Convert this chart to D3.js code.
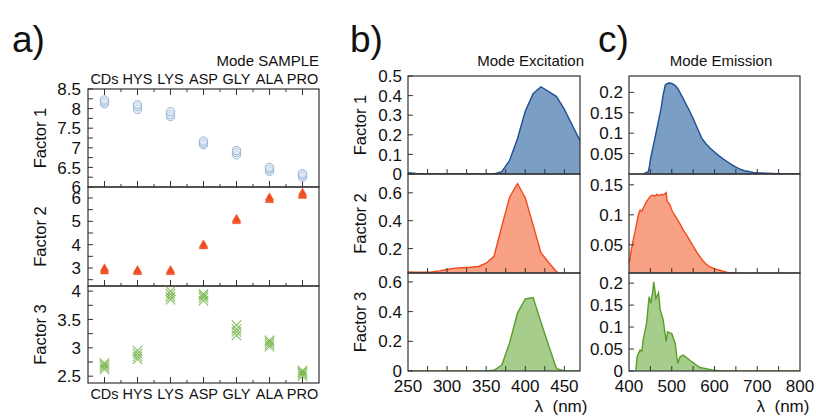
<!DOCTYPE html>
<html>
<head>
<meta charset="utf-8">
<script src="https://cdn.jsdelivr.net/npm/d3@7"></script>
<style>
  body { margin: 0; background: #fff; }
  svg { font-family: "Liberation Sans", Arial, sans-serif; }
</style>
</head>
<body>
<div id="chart"></div>
<script>
// ---- data ----
var categories = ["CDs", "HYS", "LYS", "ASP", "GLY", "ALA", "PRO"];

// mode SAMPLE, replicate scores per sample
var sampleF1 = [[8.12, 8.17, 8.22], [7.98, 8.05, 8.1], [7.8, 7.85, 7.92], [7.08, 7.12, 7.17],
                [6.82, 6.88, 6.93], [6.4, 6.45, 6.5], [6.25, 6.3, 6.34]];
var sampleF2 = [[2.85, 2.92, 2.98], [2.82, 2.86, 2.9], [2.82, 2.86, 2.9], [3.92, 3.96, 4.0],
                [5.0, 5.05, 5.1], [5.9, 5.95, 6.02], [6.08, 6.14, 6.22]];
var sampleF3 = [[2.62, 2.66, 2.7, 2.73], [2.8, 2.85, 2.9, 2.95], [3.85, 3.9, 3.95, 4.0], [3.83, 3.88, 3.92, 3.95],
                [3.22, 3.28, 3.33, 3.4], [3.02, 3.06, 3.1, 3.13], [2.5, 2.54, 2.57, 2.6]];

// mode excitation
var exWl = [250, 260, 270, 280, 290, 300, 310, 320, 330, 340, 350, 360, 370, 380, 390, 400, 410, 420, 430, 440, 450, 460, 470];
var exF1 = [0.007, 0.003, 0, 0, 0, 0, 0, 0, 0, 0, 0, 0, 0.012, 0.07, 0.18, 0.32, 0.41, 0.445, 0.42, 0.395, 0.33, 0.25, 0.17];
var exF2 = [0.032, 0.031, 0.03, 0.032, 0.04, 0.05, 0.06, 0.063, 0.066, 0.072, 0.095, 0.145, 0.36, 0.57, 0.665, 0.565, 0.37, 0.17, 0.1, 0.035, 0, 0, 0];
var exF3 = [0, 0, 0, 0, 0, 0, 0, 0, 0, 0, 0, 0.005, 0.04, 0.19, 0.39, 0.485, 0.495, 0.33, 0.17, 0.015, 0, 0, 0];

// mode emission
var emF1Wl = [435, 440, 445, 448, 450, 455, 460, 465, 470, 475, 480, 485, 490, 495, 500, 505, 510, 515, 520, 530, 540, 550,
              560, 570, 580, 590, 600, 610, 620, 630, 640, 650, 660, 670, 680, 690, 700, 720, 750, 780, 800];
var emF1 = [0, 0.004, 0.005, 0.02, 0.035, 0.06, 0.085, 0.11, 0.135, 0.16, 0.195, 0.218, 0.222, 0.223, 0.222, 0.219, 0.215, 0.208, 0.198, 0.178, 0.158, 0.136,
            0.112, 0.088, 0.074, 0.063, 0.054, 0.045, 0.037, 0.03, 0.023, 0.017, 0.012, 0.008, 0.006, 0.004, 0.003, 0.002, 0.001, 0, 0];
var emF2Wl = [400, 402, 405, 410, 415, 418, 422, 426, 430, 433, 437, 441, 445, 450, 455, 460, 465, 470, 475, 480, 485, 487, 489,
              495, 500, 504, 510, 515, 520, 525, 530, 535, 540, 545, 550, 555, 560, 565, 570, 575, 580, 590, 600, 610, 620, 630, 640, 660, 680, 700, 800];
var emF2 = [0.02, 0.025, 0.04, 0.058, 0.075, 0.086, 0.1, 0.108, 0.106, 0.111, 0.116, 0.122, 0.126, 0.131, 0.133, 0.131, 0.134, 0.132, 0.134, 0.133, 0.136, 0.137, 0.123,
            0.118, 0.108, 0.103, 0.096, 0.09, 0.084, 0.077, 0.071, 0.066, 0.06, 0.054, 0.048, 0.042, 0.036, 0.031, 0.026, 0.022, 0.018, 0.013, 0.01, 0.008, 0.006, 0.004, 0.003, 0.002, 0.001, 0, 0];
var emF3Wl = [416, 419, 426, 430, 433, 441, 447, 451, 455, 458, 463, 469, 473, 480, 487, 490, 500, 508, 514, 519, 527, 543, 566, 597, 620, 800];
var emF3 = [0, 0.033, 0.048, 0.045, 0.07, 0.108, 0.169, 0.154, 0.177, 0.203, 0.165, 0.178, 0.139, 0.116, 0.067, 0.089, 0.085, 0.063, 0.017, 0.032, 0.036, 0.024, 0.008, 0.002, 0, 0];

var exTicks = [250, 300, 350, 400, 450];
var emTicks = [400, 500, 600, 700, 800];

// colours per factor
var stroke = ["#1f4f8f", "#f24a1d", "#5a9e2a"];
var fill = ["#7b9ec4", "#f9a185", "#a6cd8c"];

var svg = d3.select("#chart").append("svg")
    .attr("width", 816)
    .attr("height", 416);

var rows = [[89, 187], [187, 286], [286, 383]];
var rowsBC = [[76, 174], [174, 273], [273, 371]];

// ---- panel a ----
var xA = d3.scalePoint().domain(categories).range([88, 319]).padding(0.5);
var yA = [
  d3.scaleLinear().domain([6, 8.5]).range([rows[0][1], rows[0][0]]),
  d3.scaleLinear().domain([2.23, 6.47]).range([rows[1][1], rows[1][0]]),
  d3.scaleLinear().domain([2.38, 4.09]).range([rows[2][1], rows[2][0]])
];
var yAticks = [
  { major: [6, 6.5, 7, 7.5, 8, 8.5], minor: d3.range(6, 8.51, 0.25) },
  { major: [3, 4, 5, 6], minor: d3.range(2.5, 6.5, 0.5) },
  { major: [2.5, 3, 3.5, 4], minor: d3.range(2.5, 4.01, 0.25) }
];
var samples = [sampleF1, sampleF2, sampleF3];
var step = xA.step();

rows.forEach(function(r, i) {
  var g = svg.append("g");
  g.append("rect")
    .attr("x", 88).attr("y", r[0])
    .attr("width", 319 - 88).attr("height", r[1] - r[0])
    .attr("fill", "none").attr("stroke", "#333").attr("stroke-width", 1.2);

  // x ticks (inside, bottom; also top of the first row)
  categories.forEach(function(c, k) {
    var x = xA(c);
    g.append("line").attr("x1", x).attr("x2", x).attr("y1", r[1]).attr("y2", r[1] - 6)
      .attr("stroke", "#333").attr("stroke-width", 1);
    if (k < categories.length - 1) {
      g.append("line").attr("x1", x + step / 2).attr("x2", x + step / 2).attr("y1", r[1]).attr("y2", r[1] - 3)
        .attr("stroke", "#333").attr("stroke-width", 1);
    }
    if (i === 0) {
      g.append("line").attr("x1", x).attr("x2", x).attr("y1", r[0]).attr("y2", r[0] + 6)
        .attr("stroke", "#333").attr("stroke-width", 1);
      if (k < categories.length - 1) {
        g.append("line").attr("x1", x + step / 2).attr("x2", x + step / 2).attr("y1", r[0]).attr("y2", r[0] + 3)
          .attr("stroke", "#333").attr("stroke-width", 1);
      }
    }
  });

  // y ticks
  yAticks[i].minor.forEach(function(v) {
    g.append("line").attr("x1", 88).attr("x2", 93).attr("y1", yA[i](v)).attr("y2", yA[i](v))
      .attr("stroke", "#333").attr("stroke-width", 1);
  });
  g.selectAll(".yl").data(yAticks[i].major).enter().append("text")
    .attr("x", 81).attr("y", function(d) { return yA[i](d); })
    .attr("dy", "0.36em")
    .attr("text-anchor", "end")
    .attr("font-size", 17)
    .attr("fill", "#111")
    .text(function(d) { return d3.format("")(d); });

  g.append("text")
    .attr("transform", "translate(46," + ((r[0] + r[1]) / 2) + ") rotate(-90)")
    .attr("text-anchor", "middle")
    .attr("font-size", 16.5)
    .attr("fill", "#111")
    .text("Factor " + (i + 1));

  // points
  var pts = [];
  samples[i].forEach(function(vals, k) {
    vals.forEach(function(v) { pts.push({ c: categories[k], v: v }); });
  });
  if (i === 0) {
    g.selectAll(".pt").data(pts).enter().append("circle")
      .attr("cx", function(d) { return xA(d.c); })
      .attr("cy", function(d) { return yA[i](d.v); })
      .attr("r", 4.2)
      .attr("fill", "#dce8f5").attr("fill-opacity", 0.5)
      .attr("stroke", "#9bb8d8").attr("stroke-width", 1);
  } else if (i === 1) {
    g.selectAll(".pt").data(pts).enter().append("path")
      .attr("d", d3.symbol().type(d3.symbolTriangle).size(30))
      .attr("transform", function(d) { return "translate(" + xA(d.c) + "," + yA[i](d.v) + ")"; })
      .attr("fill", "#f04a1e").attr("stroke", "#f26a40").attr("stroke-width", 0.5);
  } else {
    g.selectAll(".pt").data(pts).enter().append("path")
      .attr("d", d3.symbol().type(d3.symbolX).size(60))
      .attr("transform", function(d) { return "translate(" + xA(d.c) + "," + yA[i](d.v) + ")"; })
      .attr("fill", "none").attr("stroke", "#6aae3c").attr("stroke-width", 1.1).attr("stroke-opacity", 0.8);
  }
});

// category labels top & bottom
[84, 399].forEach(function(yy) {
  svg.append("g").selectAll("text").data(categories).enter().append("text")
    .attr("x", function(d) { return xA(d); })
    .attr("y", yy)
    .attr("text-anchor", "middle")
    .attr("font-size", 14.5)
    .attr("fill", "#111")
    .text(function(d) { return d; });
});
svg.append("text").attr("x", 319).attr("y", 66).attr("text-anchor", "end")
  .attr("font-size", 15).attr("fill", "#111").text("Mode SAMPLE");

// ---- panels b and c ----
function spectrumPanel(opt) {
  var x = d3.scaleLinear().domain(opt.xDomain).range([opt.x0, opt.x1]);
  rowsBC.forEach(function(r, i) {
    var y = d3.scaleLinear().domain(opt.yDomains[i]).range([r[1], r[0]]);
    var g = svg.append("g");
    var clipId = "clip-" + opt.id + i;
    svg.append("clipPath").attr("id", clipId).append("rect")
      .attr("x", opt.x0).attr("y", r[0]).attr("width", opt.x1 - opt.x0).attr("height", r[1] - r[0]);

    var data = opt.wl[i].map(function(w, k) { return { w: w, v: opt.vals[i][k] }; });
    var area = d3.area()
      .x(function(d) { return x(d.w); })
      .y0(y(Math.min(0, opt.yDomains[i][0])))
      .y1(function(d) { return y(d.v); });
    var line = d3.line()
      .x(function(d) { return x(d.w); })
      .y(function(d) { return y(d.v); });
    var pg = g.append("g").attr("clip-path", "url(#" + clipId + ")");
    pg.append("path").datum(data).attr("d", area).attr("fill", fill[i]);
    pg.append("path").datum(data).attr("d", line).attr("fill", "none")
      .attr("stroke", stroke[i]).attr("stroke-width", 1.4);

    g.append("rect")
      .attr("x", opt.x0).attr("y", r[0])
      .attr("width", opt.x1 - opt.x0).attr("height", r[1] - r[0])
      .attr("fill", "none").attr("stroke", "#333").attr("stroke-width", 1.2);

    // x ticks
    d3.range(opt.xDomain[0], opt.xDomain[1] + 0.1, opt.xStep).forEach(function(w) {
      if (w <= opt.xDomain[0] || w >= opt.xDomain[1]) return;
      g.append("line").attr("x1", x(w)).attr("x2", x(w)).attr("y1", r[1]).attr("y2", r[1] - 5)
        .attr("stroke", "#333").attr("stroke-width", 1);
    });
    // y ticks
    opt.yTicks[i].forEach(function(v) {
      g.append("line").attr("x1", opt.x0).attr("x2", opt.x0 + 5).attr("y1", y(v)).attr("y2", y(v))
        .attr("stroke", "#333").attr("stroke-width", 1);
    });
    g.selectAll(".yl").data(opt.yTicks[i]).enter().append("text")
      .attr("x", opt.x0 - 6).attr("y", function(d) { return y(d); })
      .attr("dy", "0.36em")
      .attr("text-anchor", "end")
      .attr("font-size", 17)
      .attr("fill", "#111")
      .text(function(d) { return d3.format("")(d); });

    if (opt.ylabel) {
      g.append("text")
        .attr("transform", "translate(" + (opt.x0 - 42) + "," + ((r[0] + r[1]) / 2) + ") rotate(-90)")
        .attr("text-anchor", "middle")
        .attr("font-size", 16.5)
        .attr("fill", "#111")
        .text("Factor " + (i + 1));
    }
  });

  svg.append("g").selectAll("text").data(opt.xLabels).enter().append("text")
    .attr("x", function(d) { return x(d); })
    .attr("y", 392)
    .attr("text-anchor", "middle")
    .attr("font-size", 17)
    .attr("fill", "#111")
    .text(function(d) { return d; });
  svg.append("text").attr("x", opt.unitX).attr("y", 412).attr("text-anchor", "middle")
    .attr("font-size", 17).attr("fill", "#111").attr("xml:space", "preserve").text("λ  (nm)");
  svg.append("text").attr("x", opt.titleX).attr("y", 66).attr("text-anchor", opt.titleAnchor)
    .attr("font-size", 15).attr("fill", "#111").text(opt.title);
}

spectrumPanel({
  id: "b", x0: 408, x1: 580, xDomain: [250, 470], xStep: 25, xLabels: exTicks,
  wl: [exWl, exWl, exWl], vals: [exF1, exF2, exF3],
  yDomains: [[0, 0.5], [0.025, 0.735], [0, 0.66]],
  yTicks: [[0, 0.1, 0.2, 0.3, 0.4, 0.5], [0.2, 0.4, 0.6], [0, 0.2, 0.4, 0.6]],
  ylabel: true, unitX: 561, title: "Mode Excitation", titleX: 584, titleAnchor: "end"
});
spectrumPanel({
  id: "c", x0: 629, x1: 800, xDomain: [400, 800], xStep: 50, xLabels: emTicks,
  wl: [emF1Wl, emF2Wl, emF3Wl], vals: [emF1, emF2, emF3],
  yDomains: [[0, 0.24], [0.003, 0.168], [0, 0.223]],
  yTicks: [[0.05, 0.1, 0.15, 0.2], [0.05, 0.1, 0.15], [0, 0.05, 0.1, 0.15, 0.2]],
  ylabel: false, unitX: 783, title: "Mode Emission", titleX: 721, titleAnchor: "middle"
});

// panel letters
[["a)", 12], ["b)", 350], ["c)", 598]].forEach(function(p) {
  svg.append("text").attr("x", p[1]).attr("y", 52).attr("font-size", 37).attr("fill", "#111").text(p[0]);
});
</script>
</body>
</html>
